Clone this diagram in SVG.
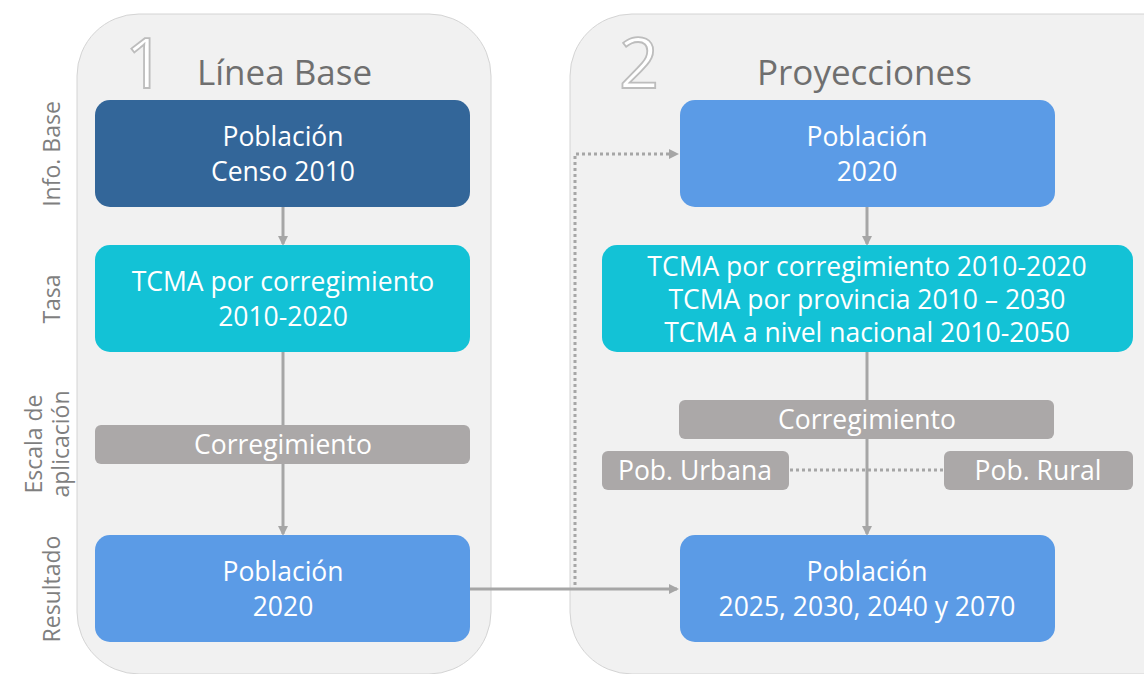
<svg xmlns="http://www.w3.org/2000/svg" width="1144" height="674" viewBox="0 0 1144 674">
<defs>
<style>
.panel{fill:#f1f1f1;stroke:#d4d4d4;stroke-width:1}
.t{font-family:"Open Sans","Liberation Sans",sans-serif;fill:#ffffff;font-size:26.5px;text-anchor:middle}
.title{font-family:"Open Sans","Liberation Sans",sans-serif;fill:#6f6f6f;font-size:35px}
.num{font-family:"Open Sans","Liberation Sans",sans-serif;fill:#ffffff;stroke:#bdbdbd;stroke-width:1.8;font-size:70px}
.side{font-family:"Open Sans","Liberation Sans",sans-serif;fill:#7f7f7f;font-size:23px;text-anchor:middle}
.dark{fill:#336699}
.cyan{fill:#13c2d6}
.blue{fill:#5b9be6}
.gray{fill:#aba8a8}
.c{stroke:#a6a6a6;stroke-width:3;fill:none}
.d{stroke:#a6a6a6;stroke-width:3;fill:none;stroke-dasharray:3 3}
</style>
<marker id="ah" markerWidth="10" markerHeight="10" refX="8" refY="5" orient="auto" markerUnits="userSpaceOnUse">
<path d="M0,0 L10,5 L0,10 z" fill="#a6a6a6"/>
</marker>
</defs>
<rect width="1144" height="674" fill="#ffffff"/>
<g id="panel1">
<rect class="panel" x="77" y="14" width="414" height="660" rx="62"/>
<text class="num" x="125" y="88">1</text>
<text class="title" x="197" y="85">Línea Base</text>
</g>
<g id="panel2">
<rect class="panel" x="570" y="14" width="640" height="660" rx="62"/>
<text class="num" x="619" y="88">2</text>
<text class="title" x="757" y="85">Proyecciones</text>
</g>
<g id="side-labels">
<text class="side" transform="translate(60,154) rotate(-90)">Info. Base</text>
<text class="side" transform="translate(60,299) rotate(-90)">Tasa</text>
<text class="side" transform="translate(42,444) rotate(-90)">Escala de</text>
<text class="side" transform="translate(69,444) rotate(-90)">aplicación</text>
<text class="side" transform="translate(60,589) rotate(-90)">Resultado</text>
</g>
<g id="connectors">
<line class="c" x1="283" y1="207" x2="283" y2="244" marker-end="url(#ah)"/>
<line class="c" x1="283" y1="352" x2="283" y2="534" marker-end="url(#ah)"/>
<line class="c" x1="867" y1="207" x2="867" y2="244" marker-end="url(#ah)"/>
<line class="c" x1="867" y1="352" x2="867" y2="534" marker-end="url(#ah)"/>
<line class="c" x1="470" y1="589" x2="677" y2="589" marker-end="url(#ah)"/>
<polyline class="d" points="575,585 575,154 677,154" marker-end="url(#ah)"/>
<line class="d" x1="790" y1="470" x2="944" y2="470"/>
</g>
<g id="n1"><rect class="dark" x="95" y="100" width="375" height="107" rx="15"/><text class="t" x="283" y="146">Población</text><text class="t" x="283" y="181">Censo 2010</text></g>
<g id="n2"><rect class="cyan" x="95" y="245" width="375" height="107" rx="15"/><text class="t" x="283" y="291">TCMA por corregimiento</text><text class="t" x="283" y="326">2010-2020</text></g>
<g id="n3"><rect class="gray" x="95" y="425" width="375" height="39" rx="6"/><text class="t" x="283" y="454">Corregimiento</text></g>
<g id="n4"><rect class="blue" x="95" y="535" width="375" height="107" rx="15"/><text class="t" x="283" y="581">Población</text><text class="t" x="283" y="616">2020</text></g>
<g id="n5"><rect class="blue" x="680" y="100" width="375" height="107" rx="15"/><text class="t" x="867" y="146">Población</text><text class="t" x="867" y="181">2020</text></g>
<g id="n6"><rect class="cyan" x="602" y="245" width="531" height="107" rx="15"/><text class="t" x="867" y="276">TCMA por corregimiento 2010-2020</text><text class="t" x="867" y="309">TCMA por provincia 2010 – 2030</text><text class="t" x="867" y="342">TCMA a nivel nacional 2010-2050</text></g>
<g id="n7"><rect class="gray" x="679" y="400" width="375" height="39" rx="6"/><text class="t" x="867" y="429">Corregimiento</text></g>
<g id="n8"><rect class="gray" x="602" y="451" width="187" height="39" rx="6"/><text class="t" x="695" y="480">Pob. Urbana</text></g>
<g id="n9"><rect class="gray" x="944" y="451" width="189" height="39" rx="6"/><text class="t" x="1038" y="480">Pob. Rural</text></g>
<g id="n10"><rect class="blue" x="680" y="535" width="375" height="107" rx="15"/><text class="t" x="867" y="581">Población</text><text class="t" x="867" y="616">2025, 2030, 2040 y 2070</text></g>
</svg>
